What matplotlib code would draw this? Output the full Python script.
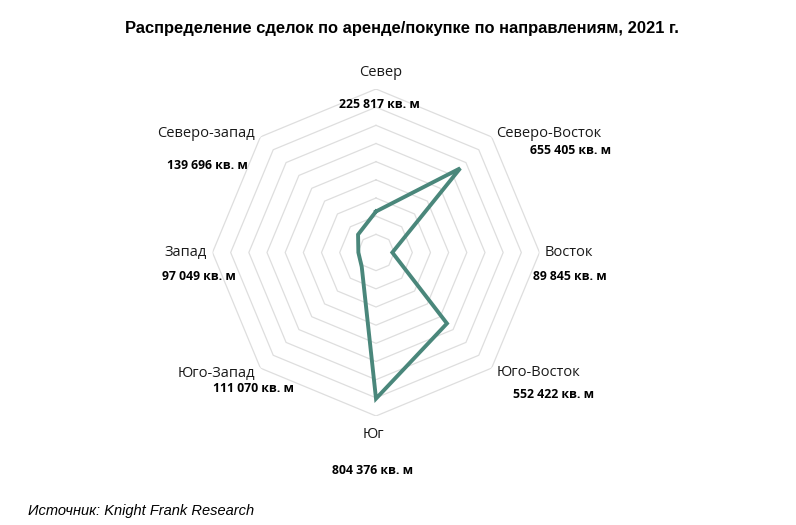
import numpy as np
import matplotlib
matplotlib.use("Agg")
import matplotlib.pyplot as plt

categories = ["Север", "Северо-Восток", "Восток", "Юго-Восток", "Юг", "Юго-Запад", "Запад", "Северо-запад"]
values = [225817, 655405, 89845, 552422, 804376, 111070, 97049, 139696]
value_labels = ["225 817 кв. м", "655 405 кв. м", "89 845 кв. м", "552 422 кв. м",
                "804 376 кв. м", "111 070 кв. м", "97 049 кв. м", "139 696 кв. м"]
ring_values = [100000 * i for i in range(1, 10)]
r_max = 900000

W, H = 796, 525
fig = plt.figure(figsize=(W / 100, H / 100), dpi=100)
fig.patch.set_facecolor("white")

cx, cy, R = 376, 252.5, 163.5
ax = fig.add_axes([(cx - R) / W, (H - cy - R) / H, 2 * R / W, 2 * R / H], projection="polar")
ax.set_theta_offset(np.pi / 2)
ax.set_theta_direction(-1)
ax.set_ylim(0, r_max)
ax.grid(False)
ax.set_xticks([])
ax.set_yticks([])
ax.spines["polar"].set_visible(False)
ax.patch.set_alpha(0)

n = len(categories)
angles = np.arange(n) * 2 * np.pi / n
ang_c = np.concatenate([angles, angles[:1]])
for rv in ring_values:
    ax.plot(ang_c, [rv] * (n + 1), color="#dedede", lw=0.9, zorder=1)

vals_c = values + values[:1]
ax.plot(ang_c, vals_c, color="#4a877b", lw=2.8, zorder=3, solid_joinstyle="miter")

def ftext(x, y, s, **kw):
    fig.text(x / W, 1 - y / H, s, **kw)

name_kw = dict(fontsize=10.5, family=["Open Sans", "DejaVu Sans"], color="#1a1a1a", va="center")
val_kw = dict(fontsize=8.8, family=["Open Sans", "DejaVu Sans"], fontweight="bold", color="black", va="center")

# category label positions (pixels)
name_pos = [(381, 72, "center"), (496, 133, "left"), (569, 253, "center"), (497, 373, "left"),
            (373, 434, "center"), (255, 373, "right"), (207, 253, "right"), (255, 133, "right")]
val_pos = [(379, 105, "center"), (611, 151, "right"), (570, 276, "center"), (513, 394, "left"),
           (373, 470, "center"), (294, 389, "right"), (236, 276, "right"), (248, 166, "right")]

for (x, y, ha), name in zip(name_pos, categories):
    ftext(x, y, name, ha=ha, **name_kw)
for (x, y, ha), lab in zip(val_pos, value_labels):
    ftext(x, y, lab, ha=ha, **val_kw)

ftext(402, 29, "Распределение сделок по аренде/покупке по направлениям, 2021 г.",
      ha="center", va="center", fontsize=11.9, fontweight="bold", family=["Liberation Sans", "DejaVu Sans"])
ftext(28, 511, "Источник: Knight Frank Research", ha="left", va="center",
      fontsize=10.5, style="italic", family=["Liberation Sans", "DejaVu Sans"])

fig.savefig("out.png", dpi=100, facecolor="white")
